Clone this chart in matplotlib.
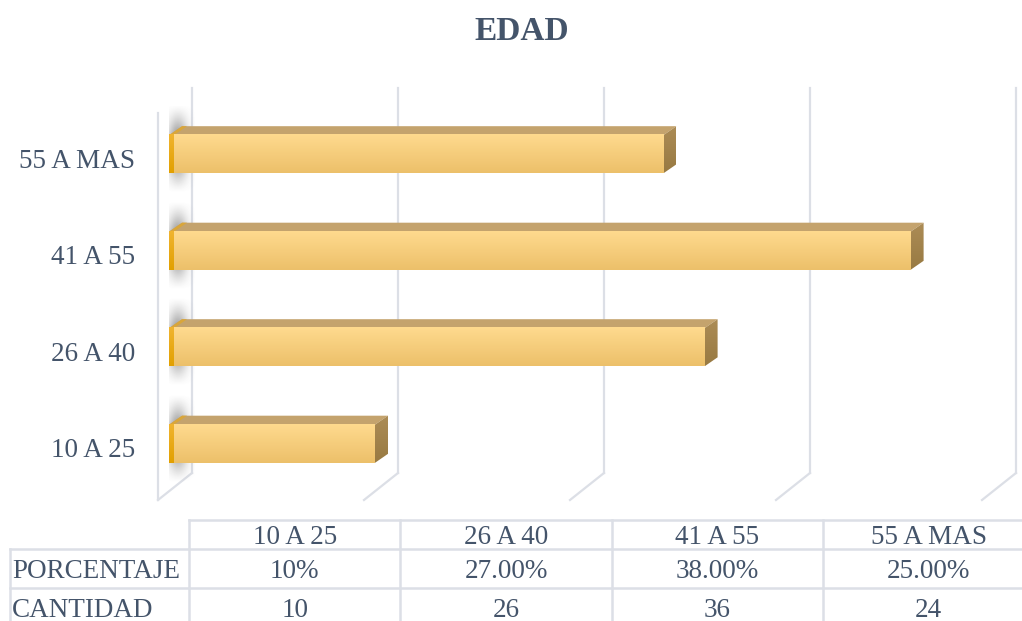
import matplotlib

matplotlib.use("Agg")

import matplotlib.pyplot as plt
import numpy as np
from matplotlib.colors import to_rgb
from matplotlib.patches import Polygon

# data
categories = ["10 A 25", "26 A 40", "41 A 55", "55 A MAS"]
cantidad = [10, 26, 36, 24]
porcentaje = ["10%", "27.00%", "38.00%", "25.00%"]
row_labels = ["PORCENTAJE", "CANTIDAD"]
x_ticks = [0, 10, 20, 30, 40]

TEXT = "#44546A"
GRID = "#DCDFE6"
FONT = "Liberation Serif"
W, H = 1022, 621

plt.rcParams["font.family"] = [FONT, "DejaVu Serif"]

fig = plt.figure(figsize=(W / 100, H / 100), dpi=100)

# plot area (front plane of the bars), in pixels of the figure
left_px, right_px, bottom_px, top_px = 169, 993, 492, 106
ax = fig.add_axes([left_px / W, 1 - bottom_px / H, (right_px - left_px) / W, (bottom_px - top_px) / H])
xmin, xmax = x_ticks[0], x_ticks[-1]
ymin, ymax = -0.5, len(categories) - 0.5
sx = (right_px - left_px) / (xmax - xmin)   # px per unit
sy = (bottom_px - top_px) / (ymax - ymin)   # px per category


def dpx(dx, dy):
    """pixel offset -> data offset"""
    return dx / sx, dy / sy


def vgrad(c_top, c_bot, n=64):
    t = np.linspace(0, 1, n)[:, None]
    a, b = np.array(to_rgb(c_top)), np.array(to_rgb(c_bot))
    return (a * (1 - t) + b * t)[:, None, :]


# walls / gridlines (pseudo 3D)
fx, fy = dpx(-11, -8)     # front floor edge relative to bar front
bx, by = dpx(23, 19)      # back wall relative to bar front
_, top_back = dpx(0, 18)
_, top_front = dpx(0, -7)
for t in x_ticks:
    ax.plot([t + fx, t + bx], [ymin + fy, ymin + by], color=GRID, lw=1.6, zorder=1, clip_on=False)
    ax.plot([t + bx, t + bx], [ymin + by, ymax + top_back], color=GRID, lw=1.6, zorder=1, clip_on=False)
ax.plot([xmin + fx, xmin + fx], [ymin + fy, ymax + top_front], color=GRID, lw=1.6, zorder=1, clip_on=False)

# bars
h = 0.395
ddx, ddy = dpx(13, 9)
strip = 5 / sx
for i, v in enumerate(cantidad):
    y0, y1 = i - h / 2, i + h / 2

    # soft shadow on the left wall
    ny, nx = 90, 50
    yy = np.linspace(0, 1, ny)[:, None]
    xx = np.linspace(0, 1, nx)[None, :]
    a = np.exp(-((xx - 0.5) / 0.28) ** 2) * np.clip(np.minimum(yy / 0.35, (1 - yy) / 0.35), 0, 1) ** 1.3
    img = np.zeros((ny, nx, 4))
    img[..., :3] = 0.3
    img[..., 3] = 0.6 * a
    sh_x0, _ = dpx(-8, 0)
    sh_x1, _ = dpx(26, 0)
    _, sh_y0 = dpx(0, -20)
    _, sh_y1 = dpx(0, 30)
    ax.imshow(img, extent=(sh_x0, sh_x1, y0 + sh_y0, y1 + sh_y1), origin="upper",
              aspect="auto", zorder=2, interpolation="bilinear")

    # top face
    ax.add_patch(Polygon([(0, y1), (v, y1), (v + ddx, y1 + ddy), (ddx, y1 + ddy)],
                         closed=True, facecolor="#C4A36D", edgecolor="none", zorder=3))
    ax.add_patch(Polygon([(0, y1), (strip, y1), (strip + ddx, y1 + ddy), (ddx, y1 + ddy)],
                         closed=True, facecolor="#D9A63A", edgecolor="none", zorder=3))
    # side face
    ax.imshow(vgrad("#AC8C56", "#987A42"), extent=(v, v + ddx, y0, y1 + ddy), aspect="auto",
              origin="upper", zorder=3, interpolation="bilinear",
              clip_path=Polygon([(v, y0), (v, y1), (v + ddx, y1 + ddy), (v + ddx, y0 + ddy)],
                                closed=True, transform=ax.transData))
    # front face
    ax.imshow(vgrad("#FFDA8E", "#ECC06A"), extent=(0, v, y0, y1), aspect="auto",
              origin="upper", zorder=4, interpolation="bilinear")
    ax.imshow(vgrad("#F0B430", "#E2A000"), extent=(0, strip, y0, y1), aspect="auto",
              origin="upper", zorder=4, interpolation="bilinear")

    # category label
    lx, ly = dpx(-34, -7)
    ax.text(lx, i + ly, categories[i], ha="right", va="center", fontsize=19.5, color=TEXT)

ax.set_xlim(xmin, xmax)
ax.set_ylim(ymin, ymax)
ax.axis("off")

# title
fig.text(522 / W, 1 - 31 / H, "EDAD", ha="center", va="center", fontsize=24,
         fontweight="bold", color=TEXT)

# data table below the plot
tab = fig.add_axes([0, 0, 1, 1], facecolor="none")
tab.set_xlim(0, W)
tab.set_ylim(H, 0)
tab.axis("off")
col_w = 211.3
col0 = 189
row_y = [520, 549, 588, H + 5]
lw = 1.8
tab.plot([col0, W + 10], [row_y[0]] * 2, color=GRID, lw=lw)
for y in row_y[1:3]:
    tab.plot([10, W + 10], [y, y], color=GRID, lw=lw)
tab.plot([10, 10], [row_y[1], row_y[3]], color=GRID, lw=lw)
for k in range(len(categories)):
    x = col0 + k * col_w
    tab.plot([x, x], [row_y[0], row_y[3]], color=GRID, lw=lw)

base = [544, 578, 617]
for k, cat in enumerate(categories):
    cx = col0 + (k + 0.5) * col_w
    tab.text(cx, base[0], cat, ha="center", va="baseline", fontsize=19.5, color=TEXT)
    tab.text(cx, base[1], porcentaje[k], ha="center", va="baseline", fontsize=19.5, color=TEXT)
    tab.text(cx, base[2], str(cantidad[k]), ha="center", va="baseline", fontsize=19.5, color=TEXT)
for r, lab in enumerate(row_labels):
    tab.text(12, base[r + 1], lab, ha="left", va="baseline", fontsize=19.5, color=TEXT)

fig.savefig("out.png", dpi=100)
